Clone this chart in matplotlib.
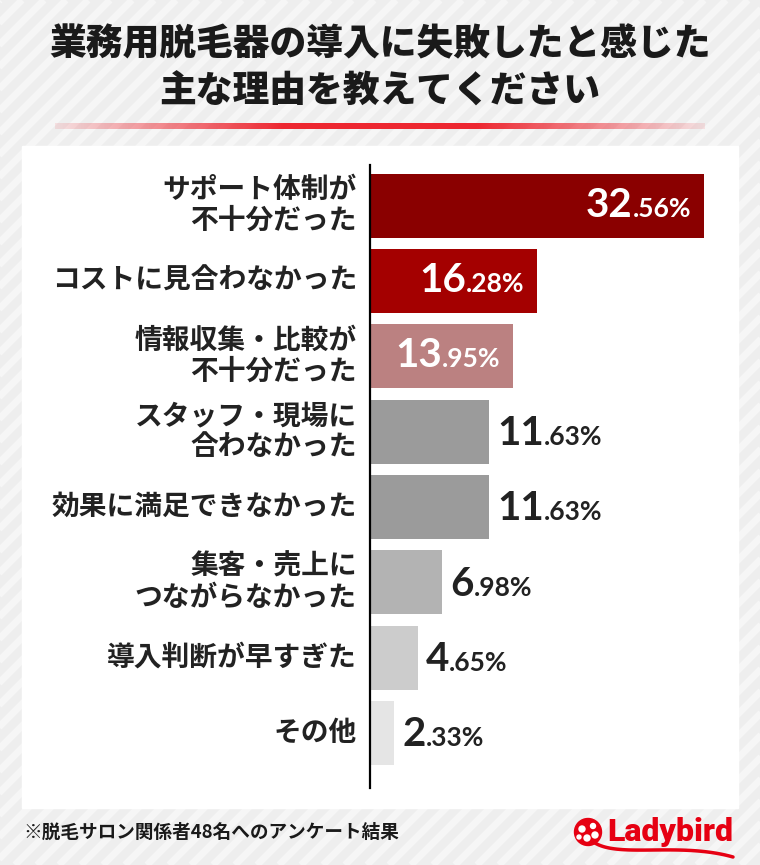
import numpy as np
import matplotlib.pyplot as plt
from matplotlib.patches import Rectangle, Circle
from matplotlib.collections import LineCollection

plt.rcParams['font.family'] = ['Noto Sans CJK JP', 'DejaVu Sans']

# データ
categories = ['サポート体制が\n不十分だった', 'コストに見合わなかった', '情報収集・比較が\n不十分だった',
              'スタッフ・現場に\n合わなかった', '効果に満足できなかった', '集客・売上に\nつながらなかった',
              '導入判断が早すぎた', 'その他']
values = [32.56, 16.28, 13.95, 11.63, 11.63, 6.98, 4.65, 2.33]
bar_colors = ['#8a0000', '#a40000', '#bb8181', '#9b9b9b', '#9b9b9b', '#b3b3b3', '#cccccc', '#e5e5e5']
inside = [True, True, True, False, False, False, False, False]

title = '業務用脱毛器の導入に失敗したと感じた\n主な理由を教えてください'
note = '※脱毛サロン関係者48名へのアンケート結果'

W, H = 760, 865
fig = plt.figure(figsize=(W / 100, H / 100), dpi=100)

# 背景（ストライプ）
bg = fig.add_axes([0, 0, 1, 1], zorder=0)
bg.axis('off')
bg.add_patch(Rectangle((0, 0), W, H, color='#eeeeee', zorder=0))
segs = [[(k, H), (k + H, 0)] for k in range(-H, W + 20, 22)]
bg.add_collection(LineCollection(segs, colors='#f6f6f6', linewidths=5, zorder=1))

# 白いパネル
bg.add_patch(Rectangle((22, 146), 716, 662, color='white', zorder=2))

# タイトル
bg.text(W / 2, 68, title, ha='center', va='center', fontsize=26.5, fontweight='heavy',
        color='#1a1a1a', linespacing=1.28, zorder=3)

# 赤いグラデーションライン
t = np.linspace(0, 1, 400)
alpha = np.clip(np.minimum(t, 1 - t) / 0.35, 0, 1) * 0.85 + 0.1
grad = np.zeros((1, len(t), 4))
grad[..., 0] = 0.93
grad[..., 1] = 0.11
grad[..., 2] = 0.15
grad[..., 3] = alpha
bg.imshow(grad, extent=[55, 705, 129, 123], aspect='auto', zorder=3)

# 注記
bg.text(23, 832, note, ha='left', va='center', fontsize=13.4, fontweight='bold',
        color='#1a1a1a', zorder=3)

# ロゴ
red = '#e60012'
bg.add_patch(Circle((588, 832), 13.5, color=red, zorder=4))
for dx, dy, r in [(-6, -3, 3), (5, -6, 2.5), (7, 3, 3), (-1, 6, 3), (-9, 5, 2)]:
    bg.add_patch(Circle((588 + dx, 832 + dy), r, color='white', zorder=5))
bg.text(607, 832, 'Ladybird', ha='left', va='center', fontsize=23, fontweight='heavy',
        color=red, family=['Roboto', 'DejaVu Sans'], zorder=4)
# スウッシュ（ベジェ曲線）
p0, p1, p2, p3 = np.array([595, 843]), np.array([620, 858]), np.array([680, 842]), np.array([733, 857])
s = np.linspace(0, 1, 80)[:, None]
curve = (1 - s) ** 3 * p0 + 3 * (1 - s) ** 2 * s * p1 + 3 * (1 - s) * s ** 2 * p2 + s ** 3 * p3
bg.plot(curve[:, 0], curve[:, 1], color=red, lw=2.5, zorder=4, solid_capstyle='round')

bg.set_xlim(0, W)
bg.set_ylim(H, 0)

# 棒グラフ
ax = fig.add_axes([370 / W, 1 - 788 / H, 369 / W, 623 / H], zorder=5)
ax.patch.set_alpha(0)
y = np.arange(len(values))
ax.barh(y, values, height=0.85, color=bar_colors)
ax.set_xlim(0, 36)
ax.set_ylim(7.73, -0.54)
for sp in ['top', 'right', 'bottom']:
    ax.spines[sp].set_visible(False)
ax.spines['left'].set_linewidth(1.6)
ax.spines['left'].set_color('black')
ax.set_xticks([])
ax.set_yticks([])

fnt = ['Lato', 'DejaVu Sans']
for i, (cat, v) in enumerate(zip(categories, values)):
    ax.annotate(cat, xy=(0, i), xytext=(-9.5, 0), textcoords='offset points',
                ha='right', va='center', fontsize=20, fontweight='bold',
                color='#222222', linespacing=1.12)
    big, small = f'{v:.2f}'.split('.')
    small = '.' + small + '%'
    if inside[i]:
        st = ax.annotate(small, xy=(v, i), xytext=(-9, -8), textcoords='offset points',
                         ha='right', va='baseline', fontsize=19, fontweight='bold',
                         color='white', family=fnt)
        ax.annotate(big, xy=(0, i), xycoords=(st, 'data'), xytext=(0, -8),
                    textcoords='offset points', ha='right', va='baseline',
                    fontsize=29, fontweight='bold', color='white', family=fnt)
    else:
        bt = ax.annotate(big, xy=(v, i), xytext=(6, -9.5), textcoords='offset points',
                         ha='left', va='baseline', fontsize=29, fontweight='bold',
                         color='#222222', family=fnt)
        ax.annotate(small, xy=(1, i), xycoords=(bt, 'data'), xytext=(0, -9.5),
                    textcoords='offset points', ha='left', va='baseline',
                    fontsize=19, fontweight='bold', color='#222222', family=fnt)

fig.savefig('out.png', dpi=100)
